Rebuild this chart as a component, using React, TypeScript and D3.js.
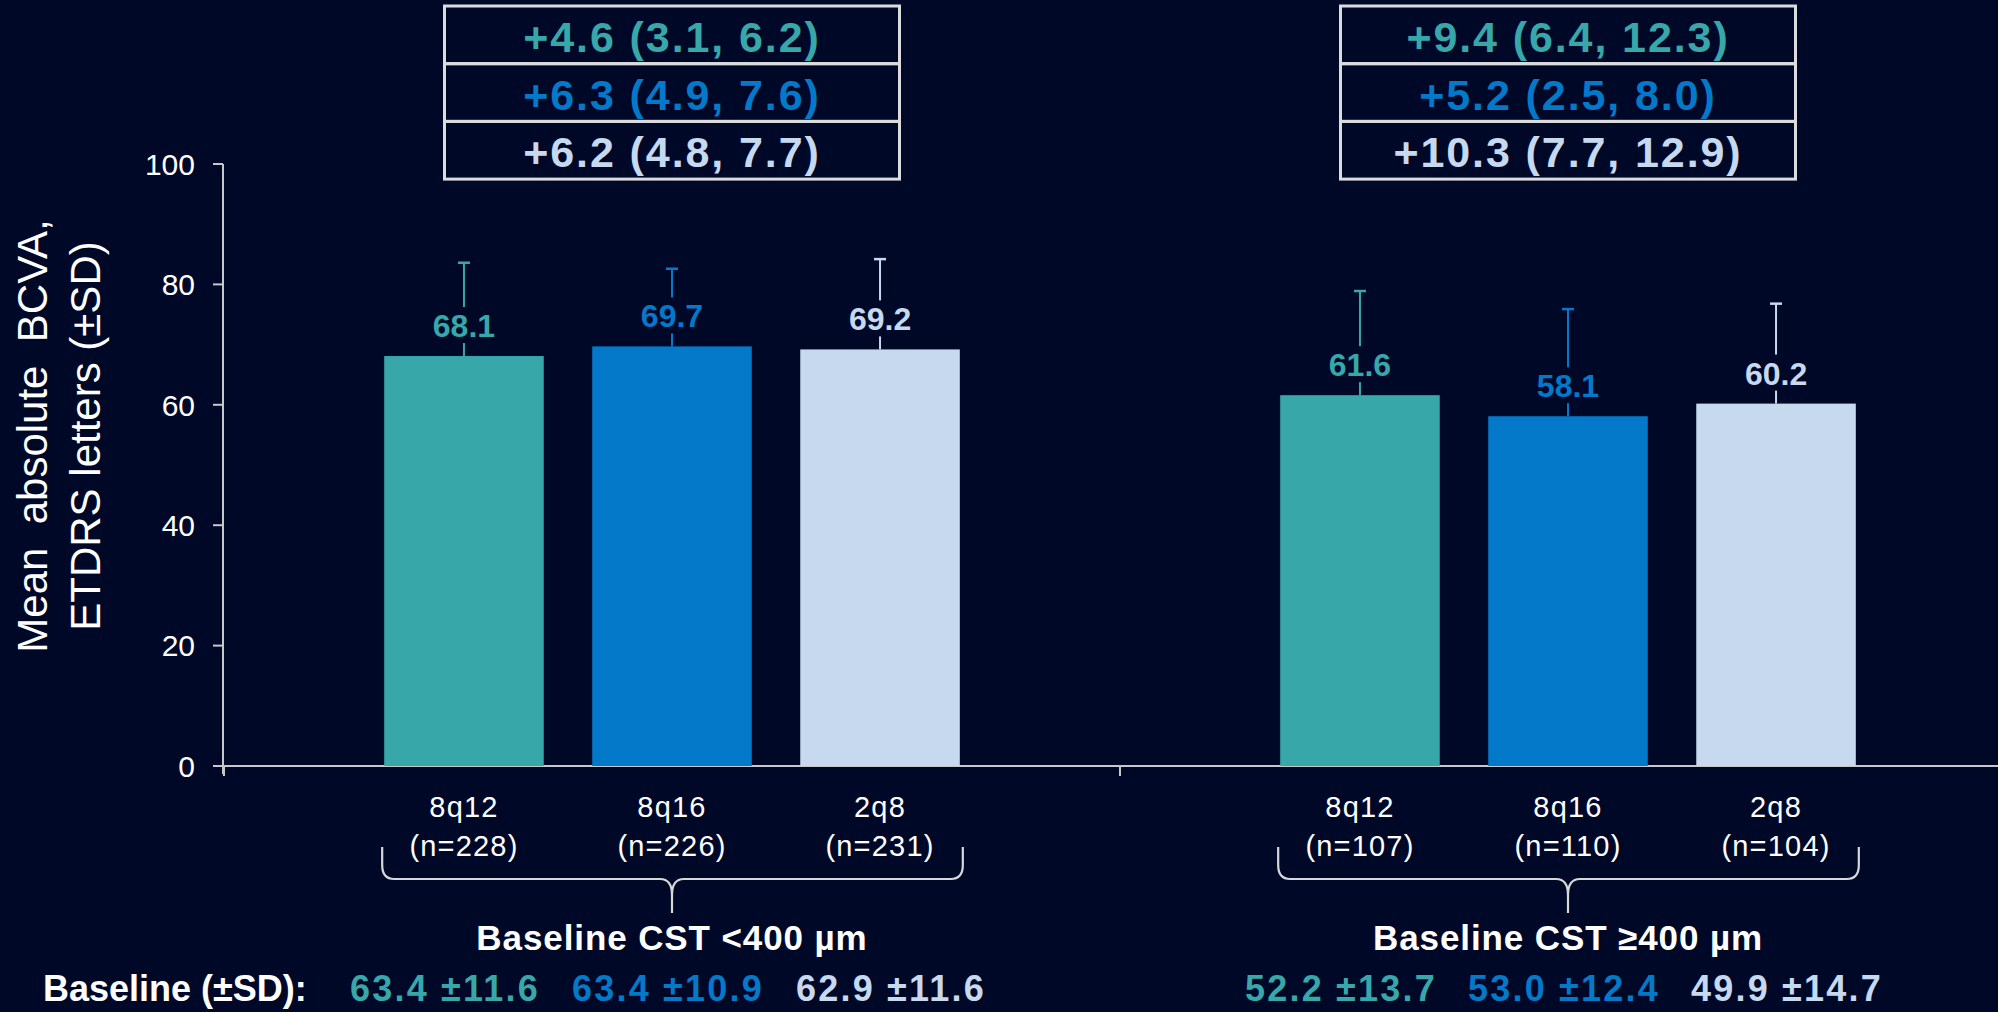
import React from "react";
import * as d3 from "d3";

const groups = ["Baseline CST <400 µm", "Baseline CST ≥400 µm"];
const arms = ["8q12", "8q16", "2q8"];
const nLow = [228, 226, 231];
const nHigh = [107, 110, 104];
const meanLow = [68.1, 69.7, 69.2];
const meanHigh = [61.6, 58.1, 60.2];
const sdLow = [15.5, 12.9, 15.0];
const sdHigh = [17.3, 17.8, 16.6];
const changeLow = ["+4.6 (3.1, 6.2)", "+6.3 (4.9, 7.6)", "+6.2 (4.8, 7.7)"];
const changeHigh = ["+9.4 (6.4, 12.3)", "+5.2 (2.5, 8.0)", "+10.3 (7.7, 12.9)"];
const baselineLow = ["63.4 ±11.6", "63.4 ±10.9", "62.9 ±11.6"];
const baselineHigh = ["52.2 ±13.7", "53.0 ±12.4", "49.9 ±14.7"];
const yTicks = [0, 20, 40, 60, 80, 100];
const yTitle = ["Mean  absolute  BCVA,", "ETDRS letters (±SD)"];
const baselineLabel = "Baseline (±SD):";

const armColors = ["#37A7AA", "#0479C9", "#C6D9EE"];
const BG = "#000828";
const AXIS = "#c8c8c8";
const FONT = "'Liberation Sans', Arial, Helvetica, sans-serif";

const W = 1998;
const H = 1012;

const groupData = [
  { name: groups[0], n: nLow, mean: meanLow, sd: sdLow, change: changeLow, base: baselineLow },
  { name: groups[1], n: nHigh, mean: meanHigh, sd: sdHigh, change: changeHigh, base: baselineHigh },
];

export default function App() {
  const y = d3.scaleLinear().domain([0, 100]).range([766, 164]);
  const xGroup = d3.scaleBand<string>().domain(groups).range([224, 2016]);
  const xArm = d3
    .scaleBand<string>()
    .domain(arms)
    .range([0, xGroup.bandwidth()])
    .paddingInner(0.233)
    .paddingOuter(0.77);
  const bw = xArm.bandwidth();
  const axisX = 223;
  const y0 = y(0);

  const boxW = 455;
  const boxTop = 6;
  const rowH = 57.7;

  return (
    <svg
      width={W}
      height={H}
      style={{ position: "absolute", left: 0, top: 0, background: BG, display: "block" }}
      fontFamily={FONT}
    >
      <rect x={0} y={0} width={W} height={H} fill={BG} />

      {/* Y axis title */}
      {yTitle.map((t, i) => (
        <text
          key={t}
          transform={`translate(${47 + i * 53},436) rotate(-90)`}
          textAnchor="middle"
          fontSize={42}
          fill="#ffffff"
          style={{ whiteSpace: "pre" }}
        >
          {t}
        </text>
      ))}

      {/* Y axis */}
      <line x1={axisX} x2={axisX} y1={y(100)} y2={y0 + 8} stroke={AXIS} strokeWidth={2} />
      {yTicks.map((t) => (
        <g key={t}>
          <line x1={axisX - 10} x2={axisX} y1={y(t)} y2={y(t)} stroke={AXIS} strokeWidth={2} />
          <text
            x={axisX - 28}
            y={y(t)}
            dy="0.36em"
            textAnchor="end"
            fontSize={30}
            fill="#ffffff"
          >
            {t}
          </text>
        </g>
      ))}

      {/* X axis */}
      <line x1={axisX} x2={W} y1={y0} y2={y0} stroke={AXIS} strokeWidth={2} />
      {groups.map((g) => (
        <line
          key={g}
          x1={xGroup(g)!}
          x2={xGroup(g)!}
          y1={y0}
          y2={y0 + 10}
          stroke={AXIS}
          strokeWidth={2}
        />
      ))}

      {groupData.map((gd) => {
        const gx = xGroup(gd.name)!;
        const gc = gx + xGroup.bandwidth() / 2;
        const bx0 = gx + xArm(arms[0])! - 2;
        const bx1 = gx + xArm(arms[2])! + bw + 3;
        const hy = 879;
        const braceTop = 847;
        const tip = 913;
        const bracePath = [
          `M${bx0},${braceTop}`,
          `L${bx0},${hy - 14}`,
          `Q${bx0},${hy} ${bx0 + 12},${hy}`,
          `L${gc - 12},${hy}`,
          `Q${gc},${hy} ${gc},${hy + 16}`,
          `L${gc},${tip}`,
          `M${gc},${hy + 16}`,
          `Q${gc},${hy} ${gc + 12},${hy}`,
          `L${bx1 - 12},${hy}`,
          `Q${bx1},${hy} ${bx1},${hy - 14}`,
          `L${bx1},${braceTop}`,
        ].join(" ");
        return (
          <g key={gd.name}>
            {/* change table */}
            {gd.change.map((c, i) => (
              <g key={c}>
                <rect
                  x={gc - boxW / 2}
                  y={boxTop + i * rowH}
                  width={boxW}
                  height={rowH}
                  fill="none"
                  stroke="#dcdcdc"
                  strokeWidth={3}
                />
                <text
                  x={gc}
                  y={boxTop + i * rowH + 46}
                  textAnchor="middle"
                  fontSize={43}
                  fontWeight="bold"
                  letterSpacing={1.9}
                  fill={armColors[i]}
                >
                  {c}
                </text>
              </g>
            ))}

            {/* bars */}
            {arms.map((a, i) => {
              const x = gx + xArm(a)!;
              const cx = x + bw / 2;
              const top = y(gd.mean[i]);
              const errTop = y(gd.mean[i] + gd.sd[i]);
              const labBase = top - 19;
              return (
                <g key={a}>
                  <rect x={x} y={top} width={bw} height={y0 - top} fill={armColors[i]} />
                  <line x1={cx} x2={cx} y1={top} y2={errTop} stroke={armColors[i]} strokeWidth={2} />
                  <line
                    x1={cx - 6}
                    x2={cx + 6}
                    y1={errTop}
                    y2={errTop}
                    stroke={armColors[i]}
                    strokeWidth={2.5}
                  />
                  <rect x={cx - 32} y={labBase - 30} width={64} height={36} fill={BG} />
                  <text
                    x={cx}
                    y={labBase}
                    textAnchor="middle"
                    fontSize={32}
                    fontWeight="bold"
                    fill={armColors[i]}
                  >
                    {gd.mean[i].toFixed(1)}
                  </text>
                  <text
                    x={cx}
                    y={817}
                    textAnchor="middle"
                    fontSize={29}
                    letterSpacing={1.2}
                    fill="#ffffff"
                  >
                    {a}
                  </text>
                  <text
                    x={cx}
                    y={856}
                    textAnchor="middle"
                    fontSize={29}
                    letterSpacing={1.2}
                    fill="#ffffff"
                  >
                    {`(n=${gd.n[i]})`}
                  </text>
                  <text
                    x={gc - 4 + (i - 1) * 223}
                    y={1001}
                    textAnchor="middle"
                    fontSize={36}
                    fontWeight="bold"
                    letterSpacing={2.2}
                    fill={armColors[i]}
                  >
                    {gd.base[i]}
                  </text>
                </g>
              );
            })}

            <path d={bracePath} fill="none" stroke="#d8d8d8" strokeWidth={2.2} />
            <text
              x={gc}
              y={950}
              textAnchor="middle"
              fontSize={35}
              fontWeight="bold"
              letterSpacing={0.9}
              fill="#ffffff"
            >
              {gd.name}
            </text>
          </g>
        );
      })}

      <text x={43} y={1001} fontSize={36} fontWeight="bold" fill="#ffffff">
        {baselineLabel}
      </text>
    </svg>
  );
}
